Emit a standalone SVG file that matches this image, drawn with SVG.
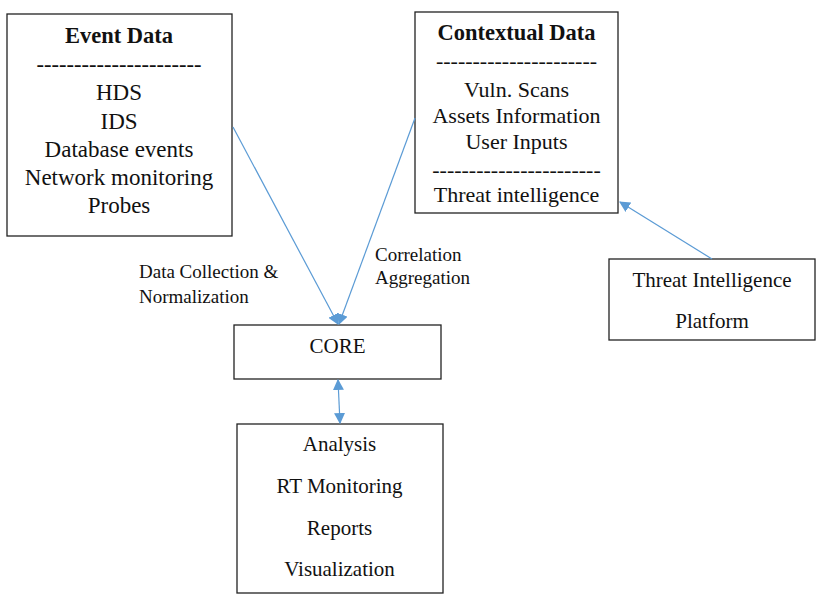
<svg xmlns="http://www.w3.org/2000/svg" width="820" height="602" viewBox="0 0 820 602">
<style>
.box{fill:#fff;stroke:#222;stroke-width:1.3}
.t{font-family:'Liberation Serif','Times New Roman',serif;font-size:21px;fill:#111;text-anchor:middle}
.e{font-size:23px}
.x{font-size:22px}
.b{font-weight:bold;font-size:22.5px}
.l{font-family:'Liberation Serif','Times New Roman',serif;font-size:19px;fill:#111}
.c{stroke:#5B9BD5;stroke-width:1.2;fill:none}
</style>
<defs>
<marker id="ah" viewBox="0 0 10 10" refX="9" refY="5" markerWidth="11" markerHeight="11" markerUnits="userSpaceOnUse" orient="auto-start-reverse">
<path d="M0,0 L10,5 L0,10 z" fill="#5B9BD5"/>
</marker>
</defs>
<rect width="820" height="602" fill="#fff"/>
<g id="event-data">
<rect class="box" x="7" y="14" width="225" height="222"/>
<text class="t b" x="119" y="43">Event Data</text>
<text class="t b" x="119" y="72" style="font-weight:normal">----------------------</text>
<text class="t e" x="119" y="100">HDS</text>
<text class="t e" x="119" y="129">IDS</text>
<text class="t e" x="119" y="157">Database events</text>
<text class="t e" x="119" y="185">Network monitoring</text>
<text class="t e" x="119" y="213">Probes</text>
</g>
<g id="contextual-data">
<rect class="box" x="415" y="12" width="203" height="201"/>
<text class="t b" x="516.5" y="40">Contextual Data</text>
<text class="t x" x="516.5" y="68">----------------------</text>
<text class="t x" x="516.5" y="97">Vuln. Scans</text>
<text class="t x" x="516.5" y="123">Assets Information</text>
<text class="t x" x="516.5" y="149">User Inputs</text>
<text class="t x" x="516.5" y="177">-----------------------</text>
<text class="t x" x="516.5" y="202">Threat intelligence</text>
</g>
<g id="core">
<rect class="box" x="234" y="325" width="207" height="54"/>
<text class="t" x="337.5" y="353">CORE</text>
</g>
<g id="analysis">
<rect class="box" x="237" y="424" width="206" height="169"/>
<text class="t" x="339.5" y="451">Analysis</text>
<text class="t" x="339.5" y="493">RT Monitoring</text>
<text class="t" x="339.5" y="535">Reports</text>
<text class="t" x="339.5" y="576">Visualization</text>
</g>
<g id="tip">
<rect class="box" x="609" y="259" width="206" height="81"/>
<text class="t" x="712" y="287">Threat Intelligence</text>
<text class="t" x="712" y="328">Platform</text>
</g>
<g id="connectors">
<line class="c" x1="233" y1="127" x2="338" y2="324" marker-end="url(#ah)"/>
<line class="c" x1="415" y1="118" x2="339" y2="324" marker-end="url(#ah)"/>
<line class="c" x1="338" y1="380" x2="340" y2="423" marker-start="url(#ah)" marker-end="url(#ah)"/>
<line class="c" x1="712" y1="259" x2="620" y2="202" marker-end="url(#ah)"/>
</g>
<g id="labels">
<text class="l" x="139" y="278">Data Collection &amp;</text>
<text class="l" x="139" y="303">Normalization</text>
<text class="l" x="375" y="261">Correlation</text>
<text class="l" x="375" y="284">Aggregation</text>
</g>
</svg>
